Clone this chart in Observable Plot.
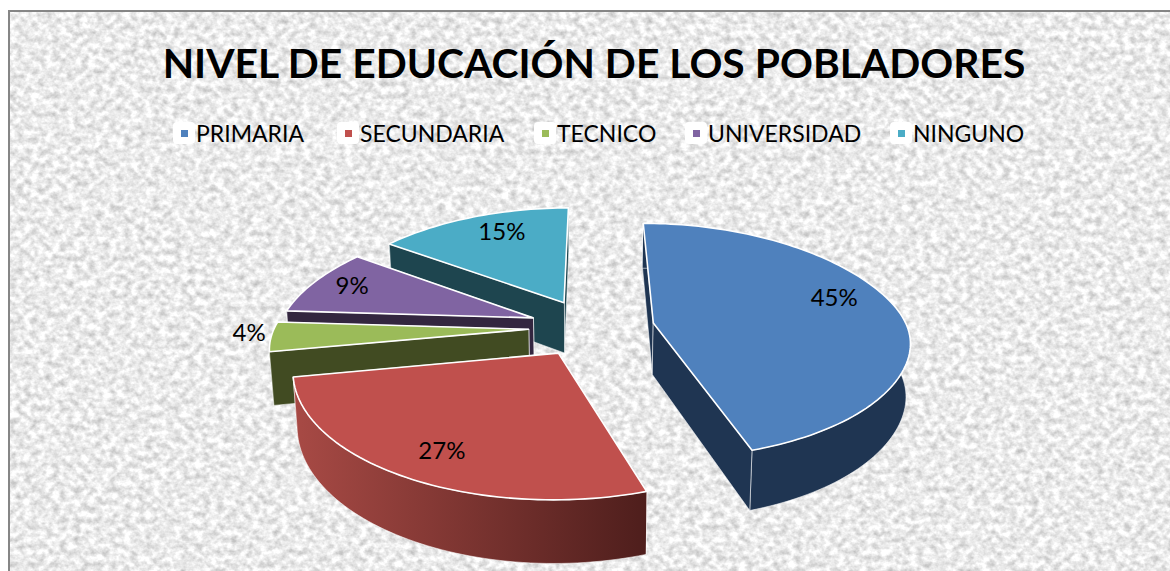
<!DOCTYPE html>
<html>
<head>
<meta charset="utf-8">
<script src="https://cdn.jsdelivr.net/npm/d3@7"></script>
<script src="https://cdn.jsdelivr.net/npm/@observablehq/plot@0.6"></script>
<style>
html,body{margin:0;padding:0;background:#fff;overflow:hidden}
#page{position:absolute;left:8px;top:10px;width:1162px;height:561px;box-sizing:border-box;border-left:2px solid #868686;border-top:2px solid #868686;overflow:hidden;
background-image:url("data:image/svg+xml;utf8,<svg xmlns='http://www.w3.org/2000/svg' width='1170' height='571'><filter id='t' x='0' y='0' width='100%' height='100%' color-interpolation-filters='sRGB'><feTurbulence type='fractalNoise' baseFrequency='0.14 0.16' numOctaves='3' seed='7'/><feColorMatrix values='0.42 0 0 0 0.71  0.42 0 0 0 0.71  0.42 0 0 0 0.71  0 0 0 0 1'/></filter><rect width='1170' height='571' filter='url(%23t)'/></svg>")}
#title{position:absolute;left:-1px;top:21px;width:1170px;text-align:center;font:700 40.8px/60px Lato,sans-serif;color:#000;white-space:nowrap}
#legend{position:absolute;left:0;top:106px;width:1160px;height:30px;font:400 23px/30px Lato,sans-serif;color:#000}
.item{position:absolute;top:0;display:flex;align-items:center;white-space:nowrap}
.key{width:22px;height:22px;background:#fff;border-radius:4px;display:flex;align-items:center;justify-content:center;margin-right:1px}
.key i{display:block;width:7px;height:7px}
#chart{position:absolute;left:-10px;top:143px}
</style>
</head>
<body>
<div id="page">
  <div id="title"></div>
  <div id="legend"></div>
  <div id="chart"></div>
</div>
<script>
const titleText = "NIVEL DE EDUCACIÓN DE LOS POBLADORES";
const categories = ["PRIMARIA", "SECUNDARIA", "TECNICO", "UNIVERSIDAD", "NINGUNO"];
const values = [45, 27, 4, 9, 15];
const topColors = ["#4F81BD", "#C0504D", "#9BBB59", "#8064A2", "#4BACC6"];
const sideColors = ["#1F3552", "url(#redWall)", "#414B22", "#33263F", "#1E454F"];
const legendLeft = [163, 327, 524, 675, 880];
const labelFraction = [0.454, 0.478, 0.61, 0.53, 0.59];
const labelRadius = [0.78, 0.8, 1.09, 0.815, 0.77];
const drawOrder = [4, 3, 2, 0, 1];

// view of the tilted pie
const W = 1170, H = 416, svgTop = 155;
const centerX = 591, centerY = 327, radiusX = 254, radiusY = 116;
const perspective = 0.151;
const explode = 0.248, thickness = 0.448, taper = 0.014;

const rad = d => d * Math.PI / 180;
function project(X, Z, down) {
  const s = 1 / (1 - perspective * Z);
  const kx = 0.165 - 0.03 * Math.tanh(3 * Z);
  const sx = 1 / (1 - kx * Z);
  return {x: X * sx * (1 - taper * down), y: Z * s + down * thickness * s};
}
function labelPoint(X, Z) {
  const s = 1 / (1 - perspective * Z);
  return {x: X * s, y: Z * s};
}
const total = d3.sum(values);
let cum = 0;
const slices = values.map((v, i) => {
  const a0 = cum / total * 360; cum += v; const a1 = cum / total * 360;
  const mid = (a0 + a1) / 2;
  const ax = explode * Math.sin(rad(mid)), az = -explode * Math.cos(rad(mid));
  const n = Math.max(4, Math.ceil((a1 - a0) / 1.5));
  const angles = d3.range(n + 1).map(k => a0 + (a1 - a0) * k / n);
  const rim = angles.map(t => [ax + Math.sin(rad(t)), az - Math.cos(rad(t))]);
  const la = a0 + (a1 - a0) * labelFraction[i], lr = labelRadius[i];
  const label = labelPoint(ax + lr * Math.sin(rad(la)), az - lr * Math.cos(rad(la)));
  return {i, ax, az, rim, label};
});

function facesOf(sl) {
  const wall = (pts, fill) => ({
    fill,
    depth: d3.mean(pts, p => p[1]),
    points: [...pts.map(p => project(p[0], p[1], 0)), ...pts.slice().reverse().map(p => project(p[0], p[1], 1))]
  });
  const apex = [sl.ax, sl.az];
  const solid = sl.i === 1 ? "#7A2F2C" : sideColors[sl.i];
  const sides = [
    wall([apex, sl.rim[0]], solid),
    wall([apex, sl.rim[sl.rim.length - 1]], solid),
    wall(sl.rim, sideColors[sl.i])
  ].sort((a, b) => a.depth - b.depth);
  const top = [project(sl.ax, sl.az, 0), ...sl.rim.map(p => project(p[0], p[1], 0))];
  return {sides, top};
}

const polygon = (pts, fill, stroke, sw, so) => Plot.line(pts, {
  x: "x", y: "y", fill, stroke, strokeWidth: sw, strokeOpacity: so, curve: "linear-closed"
});

const marks = [
  () => {
    const defs = d3.create("svg:defs");
    const g = defs.append("linearGradient").attr("id", "redWall");
    g.append("stop").attr("offset", "0%").attr("stop-color", "#A84A45");
    g.append("stop").attr("offset", "100%").attr("stop-color", "#4E1E1C");
    return defs.node();
  }
];
for (const idx of drawOrder) {
  const {sides, top} = facesOf(slices[idx]);
  for (const f of sides) marks.push(polygon(f.points, f.fill, "#fff", 1, 0.55));
  marks.push(polygon(top, topColors[idx], "#fff", 1.6, 1));
}
marks.push(Plot.text(slices, {
  x: d => d.label.x, y: d => d.label.y,
  text: d => values[d.i] + "%",
  fontSize: 24, fontFamily: "Lato, sans-serif", fill: "#000", textAnchor: "middle", lineAnchor: "middle"
}));

const chart = Plot.plot({
  width: W, height: H,
  margin: 0,
  style: {background: "transparent", overflow: "visible"},
  x: {axis: null, domain: [-centerX / radiusX, (W - centerX) / radiusX], range: [0, W]},
  y: {axis: null, domain: [(svgTop - centerY) / radiusY, (svgTop + H - centerY) / radiusY], range: [0, H]},
  marks
});
document.getElementById("chart").appendChild(chart);

document.getElementById("title").textContent = titleText;
const legend = document.getElementById("legend");
categories.forEach((c, i) => {
  const item = document.createElement("div");
  item.className = "item";
  item.style.left = legendLeft[i] + "px";
  const key = document.createElement("span");
  key.className = "key";
  const sw = document.createElement("i");
  sw.style.background = topColors[i];
  key.appendChild(sw);
  item.appendChild(key);
  item.appendChild(document.createTextNode(c));
  legend.appendChild(item);
});
</script>
</body>
</html>
